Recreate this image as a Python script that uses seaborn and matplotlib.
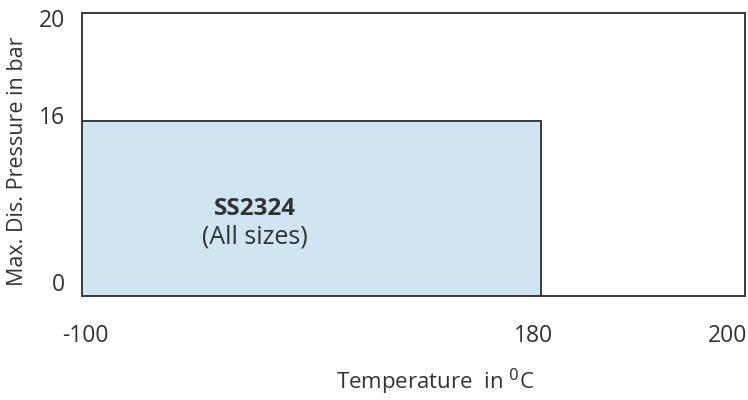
import numpy as np
import matplotlib
matplotlib.use("Agg")
import matplotlib.pyplot as plt
import matplotlib.transforms as mtrans
import seaborn as sb

# data
temp_min = -100          # deg C
temp_max = 180           # deg C
pressure_max = 16        # bar
x_ticks = [-100, 180, 200]
y_ticks = [0, 16, 20]
series_label = "SS2324"
series_note = "(All sizes)"

# schematic (non-linear) axis spacing used in the original sheet
x_knots = [-100, 180, 200]
x_frac = [0.0, 0.6923, 1.0]
y_knots = [0, 16, 20]
y_frac = [0.0, 0.618, 1.0]

text_col = "#333333"
line_col = "#3a3a3a"
bar_col = "#cfe6f2"

sb.set_theme(style="white")
plt.rcParams['font.family'] = ['Open Sans', 'DejaVu Sans']

fig = plt.figure(figsize=(7.48, 4), dpi=100)
ax = fig.add_axes([82/748, 1 - 296/400, 663/748, 283/400])

sb.histplot(x=[(temp_min + temp_max) / 2], weights=[pressure_max],
            bins=[temp_min, temp_max], color=bar_col, alpha=1,
            edgecolor=line_col, linewidth=1.4, ax=ax)

ax.set_xscale('function', functions=(lambda v: np.interp(v, x_knots, x_frac),
                                     lambda v: np.interp(v, x_frac, x_knots)))
ax.set_yscale('function', functions=(lambda v: np.interp(v, y_knots, y_frac),
                                     lambda v: np.interp(v, y_frac, y_knots)))
ax.set_xlim(x_knots[0], x_knots[-1])
ax.set_ylim(y_knots[0], y_knots[-1])

ax.set_xticks(x_ticks)
ax.set_xticklabels([str(t) for t in x_ticks])
ax.set_yticks(y_ticks)
ax.set_yticklabels([str(t) for t in y_ticks])
ax.tick_params(axis='both', length=0, labelsize=16.5, labelcolor=text_col)
ax.tick_params(axis='x', pad=20)
ax.tick_params(axis='y', pad=12)
ax.set_xlabel("")
ax.set_ylabel("")

# nudge the labels like the sheet does
x_shift = [3.5, -8, -17]
for lab, dx in zip(ax.get_xticklabels(), x_shift):
    lab.set_transform(lab.get_transform() + mtrans.ScaledTranslation(dx/100, 0, fig.dpi_scale_trans))
y_shift = [14, 6, -5]
for lab, dy in zip(ax.get_yticklabels(), y_shift):
    lab.set_transform(lab.get_transform() + mtrans.ScaledTranslation(0, dy/100, fig.dpi_scale_trans))

for s in ax.spines.values():
    s.set_visible(True)
    s.set_color(line_col)
    s.set_linewidth(1.4)
ax.grid(False)

ax.text(0.261, 0.307, series_label, transform=ax.transAxes, ha='center', va='center',
        fontsize=17.5, fontweight='bold', color=text_col)
ax.text(0.261, 0.208, series_note, transform=ax.transAxes, ha='center', va='center',
        fontsize=18, color=text_col)

fig.text(435/748, 1 - 382/400, "Temperature  in $^{0}$C", ha='center', va='center',
         fontsize=16, color=text_col)
fig.text(17.5/748, 1 - 161/400, "Max. Dis. Pressure in bar", rotation=90,
         ha='center', va='center', fontsize=15.5, color=text_col)

fig.savefig("out.png", dpi=100)
